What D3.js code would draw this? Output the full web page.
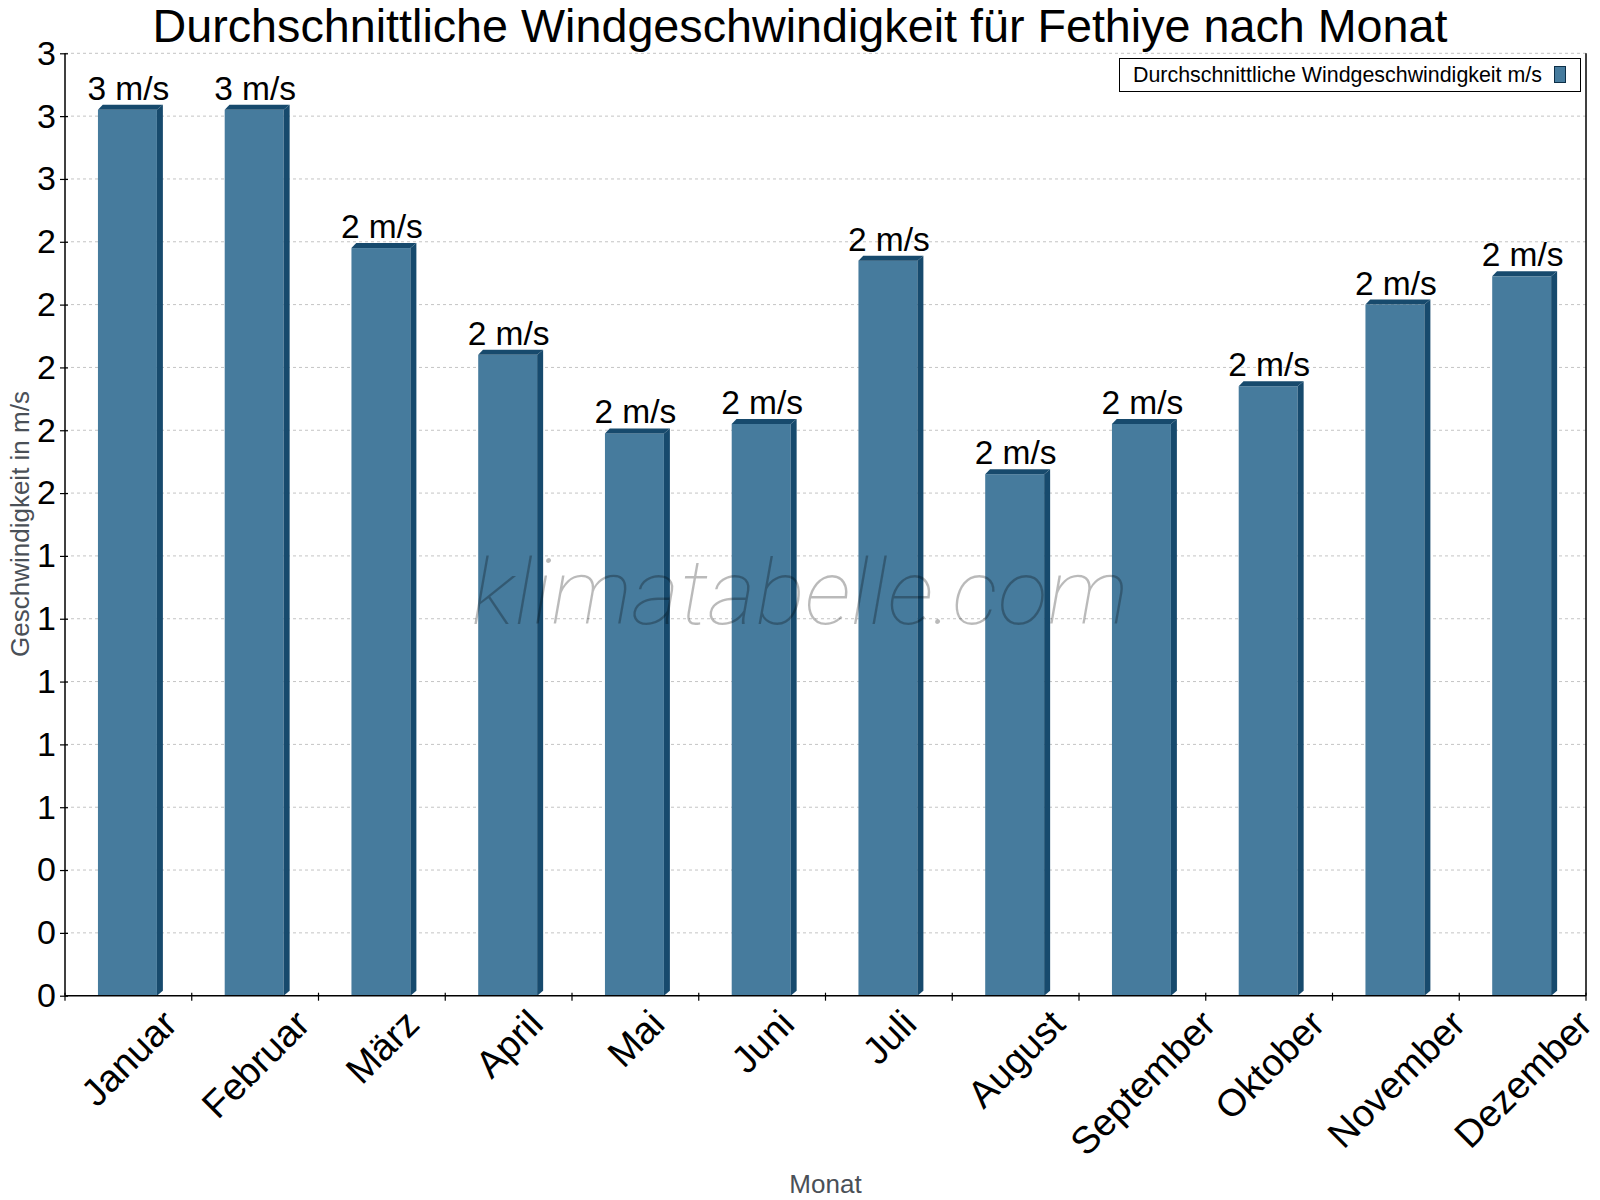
<!DOCTYPE html>
<html lang="de">
<head>
<meta charset="utf-8">
<title>Durchschnittliche Windgeschwindigkeit für Fethiye nach Monat</title>
<script src="https://cdnjs.cloudflare.com/ajax/libs/d3/7.8.5/d3.min.js"></script>
<style>
  body { margin: 0; background: #fff; }
  svg { display: block; font-family: "Liberation Sans", Arial, sans-serif; }
</style>
</head>
<body>
<script>
// data
const months = ["Januar", "Februar", "März", "April", "Mai", "Juni",
                "Juli", "August", "September", "Oktober", "November", "Dezember"];
const windSpeed = [2.82, 2.82, 2.38, 2.04, 1.79, 1.82, 2.34, 1.66, 1.82, 1.94, 2.20, 2.29];
const yTickValues = [0, 0.2, 0.4, 0.6, 0.8, 1.0, 1.2, 1.4, 1.6, 1.8, 2.0, 2.2, 2.4, 2.6, 2.8, 3.0];
const yTickLabels = ["0", "0", "0", "1", "1", "1", "1", "1", "2", "2", "2", "2", "2", "3", "3", "3"];

const titleText = "Durchschnittliche Windgeschwindigkeit für Fethiye nach Monat";
const legendText = "Durchschnittliche Windgeschwindigkeit m/s";

var w = 1600, h = 1200;
var plotLeft = 65, plotRight = 1586, plotTop = 53.3, plotBottom = 995.7;

var front = "#467b9d", dark = "#174a6d";
var depthX = 6, depthY = 5;

var svg = d3.select("body").append("svg")
    .attr("width", w)
    .attr("height", h);

var x = d3.scaleBand().domain(months).range([plotLeft, plotRight]).padding(0);
var y = d3.scaleLinear().domain([0, 3]).range([plotBottom, plotTop]);
var bw = x.bandwidth();

// grid
svg.append("g").selectAll("line")
   .data(yTickValues.slice(1))
   .enter().append("line")
   .attr("x1", plotLeft).attr("x2", plotRight)
   .attr("y1", d => y(d)).attr("y2", d => y(d))
   .attr("stroke", "#c4c4c4")
   .attr("stroke-width", 1)
   .attr("stroke-dasharray", "3,3");

// bars (front, top face, side face)
var bars = svg.append("g").selectAll("g")
   .data(windSpeed)
   .enter().append("g");

function bx(i) { return x(months[i]) + bw * 0.26; }
var barW = bw * 0.465;

bars.append("rect")
   .attr("x", (d, i) => bx(i))
   .attr("y", d => y(d))
   .attr("width", barW)
   .attr("height", d => plotBottom - y(d))
   .attr("fill", front);

bars.append("path")
   .attr("fill", dark)
   .attr("d", function(d, i) {
      var x0 = bx(i), x1 = x0 + barW, t = y(d);
      return "M" + x0 + "," + t + "L" + (x0 + depthX * 0.8) + "," + (t - depthY) +
             "L" + (x1 + depthX) + "," + (t - depthY) + "L" + x1 + "," + t + "Z";
   });

bars.append("path")
   .attr("fill", dark)
   .attr("d", function(d, i) {
      var x1 = bx(i) + barW, t = y(d);
      return "M" + x1 + "," + t + "L" + (x1 + depthX) + "," + (t - depthY) +
             "L" + (x1 + depthX) + "," + (plotBottom - depthY) + "L" + x1 + "," + plotBottom + "Z";
   });

// value labels
svg.append("g").selectAll("text")
   .data(windSpeed)
   .enter().append("text")
   .attr("x", (d, i) => x(months[i]) + bw / 2)
   .attr("y", d => y(d) - 10)
   .attr("text-anchor", "middle")
   .attr("font-size", "33.5px")
   .attr("fill", "#000")
   .text(d => d3.format(".0f")(d) + " m/s");

// y axis
var yAxis = d3.axisLeft(y)
   .tickValues(yTickValues)
   .tickFormat((d, i) => yTickLabels[i])
   .tickSize(5)
   .tickPadding(4);

var gy = svg.append("g")
   .attr("transform", "translate(" + plotLeft + ",0)")
   .call(yAxis);
gy.select(".domain").remove();
gy.selectAll("line").attr("stroke", "#000").attr("x2", -5).attr("x1", 3).attr("stroke-width", 1.2);
gy.selectAll("text")
   .attr("font-family", "Liberation Sans, Arial, sans-serif")
   .attr("font-size", "34px")
   .attr("fill", "#000");

svg.append("line")
   .attr("x1", plotLeft).attr("x2", plotLeft)
   .attr("y1", plotTop).attr("y2", plotBottom)
   .attr("stroke", "#000").attr("stroke-width", 1.5);
svg.append("line")
   .attr("x1", plotRight).attr("x2", plotRight)
   .attr("y1", plotTop).attr("y2", plotBottom)
   .attr("stroke", "#000").attr("stroke-width", 1.5);
svg.append("line")
   .attr("x1", plotLeft).attr("x2", plotRight)
   .attr("y1", plotBottom).attr("y2", plotBottom)
   .attr("stroke", "#000").attr("stroke-width", 1.5);

// x ticks at band edges
var edges = months.map(m => x(m)).concat([plotRight]);
svg.append("g").selectAll("line")
   .data(edges)
   .enter().append("line")
   .attr("x1", d => d).attr("x2", d => d)
   .attr("y1", plotBottom - 3).attr("y2", plotBottom + 5)
   .attr("stroke", "#000").attr("stroke-width", 1.2);

// x labels, rotated around their centre
var xFont = 38;
var xl = svg.append("g").selectAll("text")
   .data(months)
   .enter().append("text")
   .attr("text-anchor", "middle")
   .attr("dy", "0.36em")
   .attr("font-size", xFont + "px")
   .attr("fill", "#000")
   .text(d => d);

xl.attr("transform", function(d) {
   var tw = this.getComputedTextLength();
   var cy = 1007 + 0.3536 * (tw + 0.716 * xFont);
   return "translate(" + (x(d) + bw / 2) + "," + cy + ") rotate(-45)";
});

// axis titles
svg.append("text")
   .attr("x", (plotLeft + plotRight) / 2)
   .attr("y", 1193)
   .attr("text-anchor", "middle")
   .attr("font-size", "26px")
   .attr("fill", "#4a5057")
   .text("Monat");

svg.append("text")
   .attr("transform", "translate(29,524) rotate(-90)")
   .attr("text-anchor", "middle")
   .attr("font-size", "26px")
   .attr("fill", "#4a5057")
   .text("Geschwindigkeit in m/s");

// title
svg.append("text")
   .attr("x", 800)
   .attr("y", 42)
   .attr("text-anchor", "middle")
   .attr("font-size", "46.7px")
   .attr("fill", "#000")
   .text(titleText);

// legend
svg.append("rect")
   .attr("x", 1119.5).attr("y", 58.5)
   .attr("width", 461).attr("height", 33)
   .attr("fill", "#fff").attr("stroke", "#000").attr("stroke-width", 1);
svg.append("text")
   .attr("x", 1133).attr("y", 82)
   .attr("font-size", "21.4px")
   .attr("fill", "#000")
   .text(legendText);
svg.append("rect")
   .attr("x", 1554.5).attr("y", 66.5)
   .attr("width", 11).attr("height", 16)
   .attr("fill", front).attr("stroke", "#0d2f47").attr("stroke-width", 1);

// watermark
svg.append("text")
   .attr("x", 800)
   .attr("y", 624)
   .attr("text-anchor", "middle")
   .attr("font-family", "Roboto, sans-serif")
   .attr("font-weight", 100)
   .attr("font-style", "italic")
   .attr("font-size", "90px")
   .attr("textLength", 657)
   .attr("lengthAdjust", "spacingAndGlyphs")
   .attr("fill", "#000")
   .attr("fill-opacity", 0.27)
   .text("klimatabelle.com");
</script>
</body>
</html>
